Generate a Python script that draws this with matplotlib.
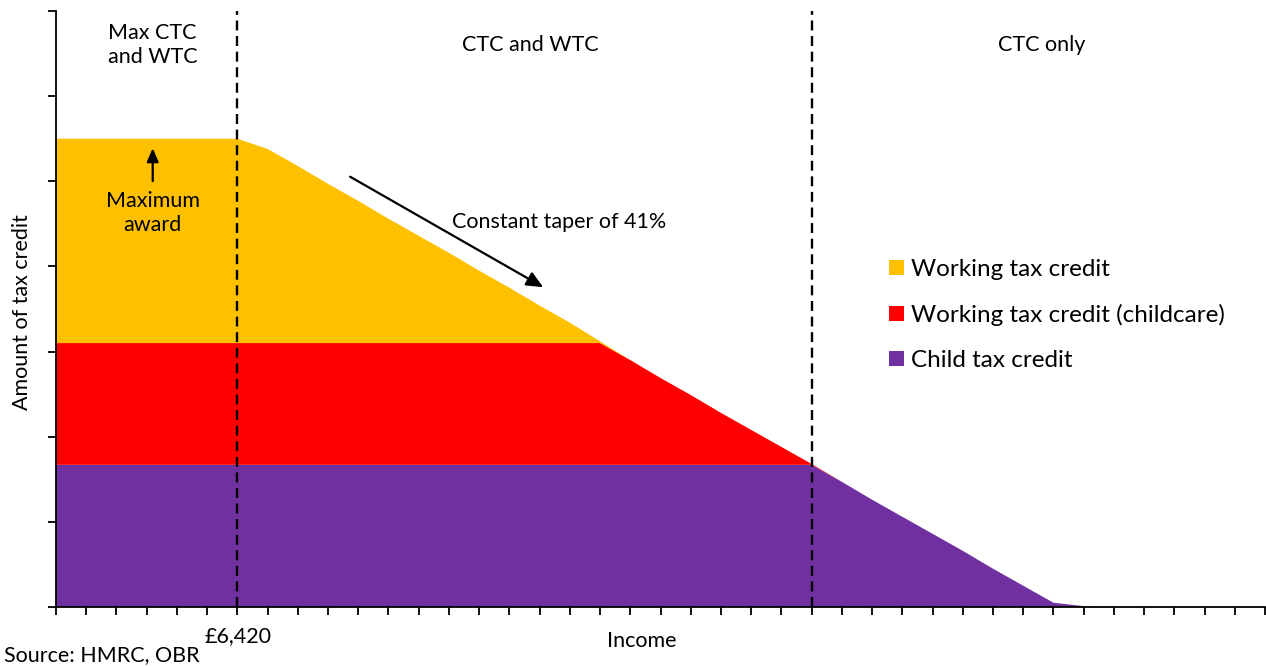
import matplotlib
matplotlib.use("Agg")
import matplotlib.pyplot as plt
from matplotlib.patches import Patch
import numpy as np

plt.rcParams['font.family'] = ['Lato', 'DejaVu Sans']

# Income steps (category positions, unlabeled)
income_steps = list(range(41))

# Layer values (arbitrary units)
child_tax_credit = [1.67] * 26 + [1.47, 1.26, 1.06, 0.86, 0.66, 0.45, 0.25, 0.05, 0.01] + [0.0] * 6
wtc_childcare = [1.43] * 19 + [1.23, 1.02, 0.82, 0.61, 0.41, 0.21, 0.01] + [0.0] * 15
working_tax_credit = [2.40] * 7 + [2.28, 2.08, 1.87, 1.67, 1.46, 1.26, 1.06, 0.85, 0.65, 0.44, 0.24, 0.02] + [0.0] * 22

series_labels = ["Working tax credit", "Working tax credit (childcare)", "Child tax credit"]
colors = {"wtc": "#FFC000", "wtcc": "#FF0000", "ctc": "#7030A0"}

threshold_positions = [6, 25]
region_labels = ["Max CTC\nand WTC", "CTC and WTC", "CTC only"]

W, H = 1266, 666
fig = plt.figure(figsize=(W / 100, H / 100), dpi=100)
ax = fig.add_axes([56 / W, 1 - 607 / H, (1265 - 56) / W, (607 - 11) / H])

x = np.array(income_steps)
ax.stackplot(x, child_tax_credit, wtc_childcare, working_tax_credit,
             colors=[colors["ctc"], colors["wtcc"], colors["wtc"]], linewidth=0)

ax.set_xlim(0, 40)
ax.set_ylim(0, 7)
ax.set_xticks(income_steps)
ax.set_xticklabels([])
ax.set_yticks(range(8))
ax.set_yticklabels([])
ax.tick_params(axis='both', direction='out', length=6, width=1.3, color='black')
for s in ['top', 'right']:
    ax.spines[s].set_visible(False)
for s in ['left', 'bottom']:
    ax.spines[s].set_linewidth(1.3)
    ax.spines[s].set_color('black')

for t in threshold_positions:
    ax.axvline(t, color='black', linestyle=(0, (4.2, 2.4)), linewidth=1.7, zorder=5)

fs = 15.5
# Region labels
ax.text(3.2, 6.6, region_labels[0], ha='center', va='center', fontsize=fs, linespacing=1.2)
ax.text(15.7, 6.6, region_labels[1], ha='center', va='center', fontsize=fs)
ax.text(32.6, 6.6, region_labels[2], ha='center', va='center', fontsize=fs)

# Maximum award annotation
ax.text(3.2, 4.63, "Maximum\naward", ha='center', va='center', fontsize=fs, linespacing=1.25)
ax.annotate("", xy=(3.2, 5.42), xytext=(3.2, 4.97),
            arrowprops=dict(arrowstyle='-|>,head_length=0.8,head_width=0.35', color='black', lw=1.6))

# Taper annotation
ax.annotate("", xy=(16.2, 3.74), xytext=(9.65, 5.07),
            arrowprops=dict(arrowstyle='-|>,head_length=1.0,head_width=0.45', color='black', lw=1.6))
ax.text(13.1, 4.52, "Constant taper of 41%", ha='left', va='center', fontsize=fs)

# Legend
handles = [Patch(facecolor=colors["wtc"]), Patch(facecolor=colors["wtcc"]), Patch(facecolor=colors["ctc"])]
fig.legend(handles, series_labels, loc='upper left', bbox_to_anchor=(877 / W, 1 - 247 / H),
           frameon=False, fontsize=17.5, handlelength=0.6, handleheight=0.6,
           handletextpad=0.3, labelspacing=0.98, borderpad=0)

# Axis texts
fig.text(22 / W, 1 - 312 / H, "Amount of tax credit", rotation=90, ha='center', va='center', fontsize=15.5)
fig.text(238 / W, 1 - 636 / H, "£6,420", ha='center', va='center', fontsize=fs)
fig.text(642 / W, 1 - 641 / H, "Income", ha='center', va='center', fontsize=fs)
fig.text(4 / W, 1 - 655 / H, "Source: HMRC, OBR", ha='left', va='center', fontsize=fs)

fig.savefig("out.png", dpi=100)
